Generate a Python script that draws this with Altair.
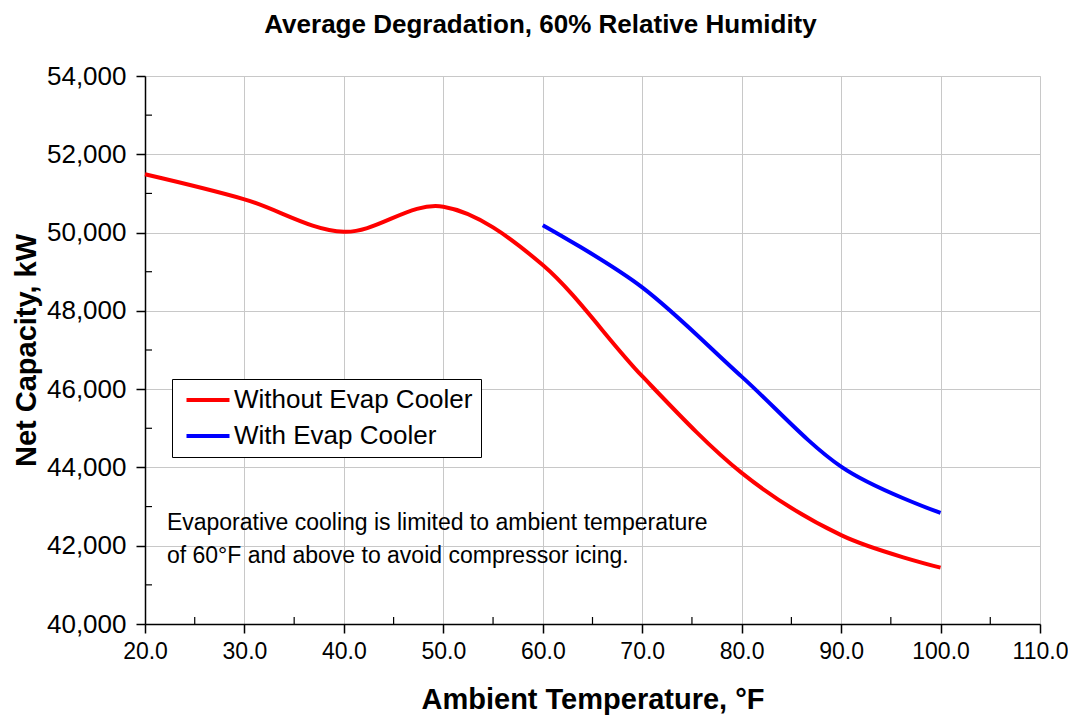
import altair as alt
import pandas as pd

# ---- data ----
temps_without = [20, 30, 40, 50, 60, 70, 80, 90, 100]
cap_without = [51490, 50850, 50020, 50660, 49170, 46330, 43860, 42270, 41440]
temps_with = [60, 70, 80, 90, 100]
cap_with = [50190, 48600, 46320, 44020, 42840]
series_names = ["Without Evap Cooler", "With Evap Cooler"]
series_colors = ["#ff0000", "#0000ff"]

x_ticks = [20, 30, 40, 50, 60, 70, 80, 90, 100, 110]
y_ticks = [40000, 42000, 44000, 46000, 48000, 50000, 52000, 54000]
x_minor = [25, 35, 45, 55, 65, 75, 85, 95, 105]
y_minor = [41000, 43000, 45000, 47000, 49000, 51000, 53000]

note_lines = ["Evaporative cooling is limited to ambient temperature",
              "of 60°F and above to avoid compressor icing."]
note_x = [22.2, 22.2]
note_y = [42400, 41560]

FONT = "Liberation Sans"

df = pd.concat([
    pd.DataFrame({"T": temps_without, "cap": cap_without, "series": series_names[0]}),
    pd.DataFrame({"T": temps_with, "cap": cap_with, "series": series_names[1]}),
], ignore_index=True)

W, H = 895, 548
xscale = alt.Scale(domain=[20, 110], nice=False, zero=False)
yscale = alt.Scale(domain=[40000, 54000], nice=False, zero=False)

lines = alt.Chart(df).mark_line(strokeWidth=4, interpolate="cardinal").encode(
    x=alt.X("T:Q", scale=xscale,
            axis=alt.Axis(values=x_ticks, format=".1f", title="Ambient Temperature, °F",
                          tickSize=9, labelPadding=7, labelFontSize=23, labelFont=FONT,
                          labelColor="black", titleFont=FONT, titleFontSize=29,
                          titleFontWeight="bold", titleColor="black",
                          titleX=W / 2, titleY=84, titleBaseline="alphabetic",
                          grid=True, gridColor="#c8c8c8", gridWidth=1,
                          domainColor="black", domainWidth=1.5,
                          tickColor="black", tickWidth=1.5, labelFlush=False)),
    y=alt.Y("cap:Q", scale=yscale,
            axis=alt.Axis(values=y_ticks, format=",d", title="Net Capacity, kW",
                          tickSize=9, labelPadding=10, labelFontSize=26, labelFont=FONT,
                          labelColor="black", titleFont=FONT, titleFontSize=29,
                          titleFontWeight="bold", titleColor="black",
                          titleX=-110, titleY=H / 2, titleAngle=-90,
                          titleBaseline="alphabetic", titleAlign="center",
                          grid=True, gridColor="#c8c8c8", gridWidth=1,
                          domainColor="black", domainWidth=1.5,
                          tickColor="black", tickWidth=1.5, labelFlush=False)),
    color=alt.Color("series:N",
                    scale=alt.Scale(domain=series_names, range=series_colors),
                    legend=alt.Legend(title=None, orient="none", legendX=27, legendY=303,
                                      strokeColor="black", fillColor="white", padding=8,
                                      labelFont=FONT, labelFontSize=26, labelColor="black",
                                      labelLimit=500,
                                      symbolType="M-2.15,0H2.15", symbolSize=400,
                                      symbolStrokeWidth=4, symbolOffset=15,
                                      labelOffset=13, rowPadding=10)),
)

minor_x = alt.Chart(pd.DataFrame({"T": x_minor})).mark_rule(color="black", strokeWidth=1.2).encode(
    x=alt.X("T:Q", scale=xscale),
    y=alt.value(H), y2=alt.value(H - 7),
)
minor_y = alt.Chart(pd.DataFrame({"cap": y_minor})).mark_rule(color="black", strokeWidth=1.2).encode(
    y=alt.Y("cap:Q", scale=yscale),
    x=alt.value(0), x2=alt.value(7),
)

notes = alt.Chart(pd.DataFrame({"T": note_x, "cap": note_y, "txt": note_lines})).mark_text(
    align="left", baseline="alphabetic", font=FONT, fontSize=23, color="black"
).encode(
    x=alt.X("T:Q", scale=xscale),
    y=alt.Y("cap:Q", scale=yscale),
    text="txt:N",
)

chart = alt.layer(lines, minor_x, minor_y, notes).properties(
    width=W, height=H,
    title=alt.TitleParams("Average Degradation, 60% Relative Humidity", font=FONT,
                          fontSize=26, fontWeight="bold", color="black",
                          anchor="middle", dx=-52, offset=25),
    autosize=alt.AutoSizeParams(type="none"),
    padding={"left": 137, "top": 68, "right": 28, "bottom": 95},
).configure_view(stroke="#a0a0a0", strokeWidth=2).configure(background="white")

chart.save("out.html", embed_options={"renderer": "svg", "actions": False})
